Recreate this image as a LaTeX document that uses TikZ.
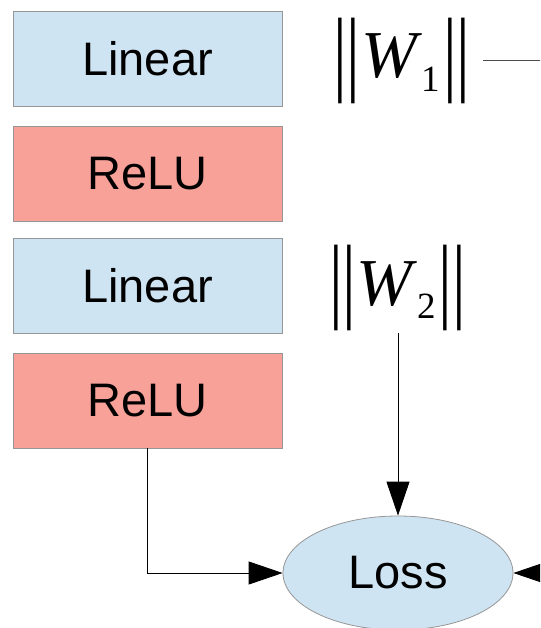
\documentclass[tikz,border=0pt]{standalone}
\usepackage{fontspec}
\setmainfont{Liberation Sans}
\newfontfamily\wserif{Liberation Serif}
\usetikzlibrary{arrows.meta,shapes.geometric}
\definecolor{linblue}{RGB}{207,228,242}
\definecolor{relured}{RGB}{247,161,153}
\definecolor{edgegray}{RGB}{150,150,150}
\begin{document}
\begin{tikzpicture}[x=1pt,y=-1pt,
  layer/.style={draw=edgegray, line width=0.8pt, minimum width=269pt, minimum height=95pt, inner sep=0pt, font=\fontsize{47}{47}\selectfont},
  linbox/.style={layer, fill=linblue},
  relubox/.style={layer, fill=relured},
  lossnode/.style={ellipse, draw=edgegray, line width=0.8pt, fill=linblue, minimum width=230pt, minimum height=114pt, inner sep=0pt, font=\fontsize{47}{47}\selectfont},
  wletter/.style={anchor=base west, inner sep=0pt, font=\wserif\itshape\fontsize{67}{67}\selectfont},
  wsub/.style={anchor=base west, inner sep=0pt, font=\wserif\fontsize{37}{37}\selectfont},
  bars/.style={inner sep=0pt, font=\wserif\fontsize{65}{65}\selectfont},
  conn/.style={draw=black, line width=0.8pt},
  arr/.style={conn, -{Triangle[length=34pt,width=23pt,fill=black]}},
  thinline/.style={draw=black!70, line width=0.8pt}
]
\useasboundingbox (0,0) rectangle (540,628);
\clip (0,0) rectangle (540,628);

\node[linbox]  (lin1)  at (147.5,58.5)  {Linear};
\node[relubox] (relu1) at (147.5,173.5) {ReLU};
\node[linbox]  (lin2)  at (147.5,285.5) {Linear};
\node[relubox] (relu2) at (147.5,400.5) {ReLU};

\node[lossnode] (loss) at (398,573) {Loss};

% ||W_1||
\node[bars] (w1l) at (347,61) {\scalebox{1.05}[1.45]{||}};
\node[wletter] (w1) at (361,78) {W};
\node[wsub] (w1s) at (421,92) {1};
\node[bars] (w1r) at (457,61) {\scalebox{1.05}[1.45]{||}};

% ||W_2||
\node[bars] (w2l) at (343,287.5) {\scalebox{1.05}[1.45]{||}};
\node[wletter] (w2) at (356,305) {W};
\node[wsub] (w2s) at (417,318) {2};
\node[bars] (w2r) at (452.5,287.5) {\scalebox{1.05}[1.45]{||}};

\coordinate (w1out) at (483,60);
\coordinate (w1far) at (620,60);
\coordinate (w2down) at (398,333);
\coordinate (rightin) at (620,573);

\draw[thinline] (w1out) -- (w1far);
\draw[arr] (w2down) -- (loss.north);
\draw[arr] (relu2.south) |- (loss.west);
\draw[arr] (rightin) -- (loss.east);
\end{tikzpicture}
\end{document}
